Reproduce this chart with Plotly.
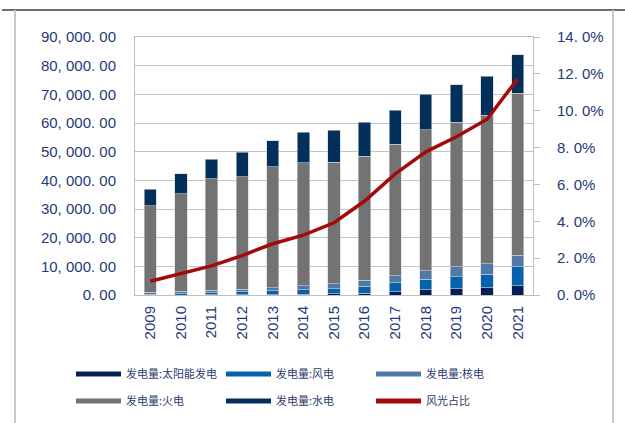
import plotly.graph_objects as go

years = ["2009", "2010", "2011", "2012", "2013", "2014", "2015",
         "2016", "2017", "2018", "2019", "2020", "2021"]
solar = [0, 1, 6, 36, 84, 235, 395, 665, 1182, 1775, 2240, 2611, 3270]
wind = [276, 494, 741, 1030, 1412, 1598, 1856, 2409, 3057, 3660, 4057, 4665, 6556]
nuclear = [701, 747, 872, 983, 1115, 1332, 1714, 2132, 2481, 2950, 3487, 3662, 4075]
thermal = [30117, 34166, 39003, 39255, 42216, 43000, 42307, 43273, 45877, 49249, 50465, 51743, 56466]
hydro = [5717, 6867, 6681, 8556, 8921, 10601, 11127, 11748, 11931, 12321, 13021, 13552, 13401]
ratio = [0.75, 1.17, 1.58, 2.14, 2.78, 3.25, 3.92, 5.10, 6.57, 7.77, 8.59, 9.54, 11.73]

left_ticks = [0, 10000, 20000, 30000, 40000, 50000, 60000, 70000, 80000, 90000]
left_labels = ["0. 00", "10, 000. 00", "20, 000. 00", "30, 000. 00", "40, 000. 00",
               "50, 000. 00", "60, 000. 00", "70, 000. 00", "80, 000. 00", "90, 000. 00"]
right_ticks = [0, 2, 4, 6, 8, 10, 12, 14]
right_labels = ["0. 0%", "2. 0%", "4. 0%", "6. 0%", "8. 0%", "10. 0%", "12. 0%", "14. 0%"]

names = ["发电量:太阳能发电", "发电量:风电", "发电量:核电", "发电量:火电", "发电量:水电", "风光占比"]
colors = ["#041E5A", "#0563AE", "#5179A8", "#737373", "#03305A", "#A50A0A"]
series = [solar, wind, nuclear, thermal, hydro]

W, H = 625, 423
L, R, T, B = 135, 533, 37, 295


def px(xp):
    return (xp - L) / (R - L)


def py(yp):
    return (B - yp) / (B - T)


fig = go.Figure()
for vals, nm, c in zip(series, names[:5], colors[:5]):
    fig.add_trace(go.Bar(x=years, y=vals, name=nm, marker=dict(color=c, line=dict(color="#D0D0D0", width=0.6)),
                         showlegend=False))

fig.add_trace(go.Scatter(x=years, y=ratio, name=names[5], mode="lines", yaxis="y2",
                         line=dict(color=colors[5], width=3.5), showlegend=False))

# legend entries
for i, (nm, c) in enumerate(zip(names, colors)):
    fig.add_trace(go.Scatter(x=[None], y=[None], mode="lines", name=nm,
                             line=dict(color=c, width=5),
                             legend="legend" if i < 3 else "legend2"))

axis_font = dict(family="Liberation Sans, Arial, sans-serif", size=15, color="#1F3A78")
legend_font = dict(family="Noto Sans CJK SC", size=11, color="#2E3A6E")

leg_common = dict(orientation="h", xanchor="left", yanchor="middle", font=legend_font,
                  itemwidth=45, entrywidth=90, entrywidthmode="pixels",
                  bgcolor="rgba(0,0,0,0)", traceorder="normal", itemclick=False)

fig.update_layout(
    width=W, height=H,
    margin=dict(l=L, r=W - R, t=T, b=H - B, pad=0, autoexpand=False),
    paper_bgcolor="white", plot_bgcolor="white",
    barmode="stack", bargap=0.6, hovermode=False,
    xaxis=dict(type="category", showline=True, mirror=True, linecolor="#BFBFBF", linewidth=1,
               tickangle=-90, tickfont=axis_font, ticks="", showgrid=False, ticklabelstandoff=4),
    yaxis=dict(range=[0, 90000], tickvals=left_ticks, ticktext=left_labels, tickfont=axis_font,
               showgrid=True, gridcolor="#C4C4C4", gridwidth=1, showline=True, linecolor="#BFBFBF",
               ticks="", zeroline=False, ticklabelstandoff=15),
    yaxis2=dict(range=[0, 14], overlaying="y", side="right", tickvals=right_ticks, ticktext=right_labels,
                tickfont=axis_font, showgrid=False, showline=True, linecolor="#BFBFBF",
                ticks="outside", ticklen=6, tickcolor="#BFBFBF", zeroline=False, ticklabelstandoff=14),
    legend=dict(x=px(71), y=py(374), **leg_common),
    legend2=dict(x=px(71), y=py(401), **leg_common),
    shapes=[
        dict(type="line", xref="paper", yref="paper", x0=px(2), x1=px(625), y0=py(10), y1=py(10),
             line=dict(color="#6E6E6E", width=2)),
        dict(type="line", xref="paper", yref="paper", x0=px(15), x1=px(15), y0=py(10), y1=py(423),
             line=dict(color="#C8C8C8", width=2)),
        dict(type="line", xref="paper", yref="paper", x0=px(613), x1=px(613), y0=py(10), y1=py(423),
             line=dict(color="#C8C8C8", width=2)),
    ],
)

fig.write_html("out.html", config={"displayModeBar": False},
               post_script="document.body.style.margin='0px';")
